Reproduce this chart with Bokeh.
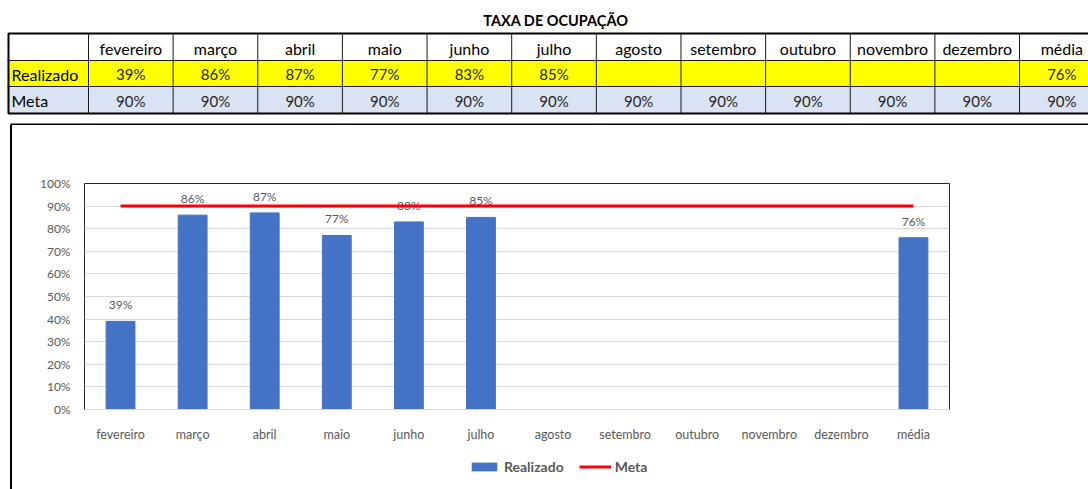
from bokeh.plotting import figure
from bokeh.models import (ColumnDataSource, FactorRange, Range1d, FixedTicker,
                          NumeralTickFormatter, Legend, LegendItem, Div, Spacer)
from bokeh.layouts import row, column
from bokeh.embed import file_html
from bokeh.resources import INLINE
from bokeh.core.properties import value

# ---------------- data ----------------
title_text = "TAXA DE OCUPAÇÃO"
months = ["fevereiro", "março", "abril", "maio", "junho", "julho", "agosto",
          "setembro", "outubro", "novembro", "dezembro", "média"]
realizado = [0.39, 0.86, 0.87, 0.77, 0.83, 0.85, None, None, None, None, None, 0.76]
meta = [0.90, 0.90, 0.90, 0.90, 0.90, 0.90, 0.90, 0.90, 0.90, 0.90, 0.90, 0.90]
row_labels = ["Realizado", "Meta"]
series_names = ["Realizado", "Meta"]
y_ticks = [0.0, 0.1, 0.2, 0.3, 0.4, 0.5, 0.6, 0.7, 0.8, 0.9, 1.0]

FONT = "Lato"
GRAY = "#595959"
BLUE = "#4472C4"
RED = "#FF0000"


def pct(v):
    return "" if v is None else f"{round(v * 100)}%"


# ---------------- table figure ----------------
W = 1088
TH = 125
t = figure(width=W, height=TH, x_range=Range1d(0, W), y_range=Range1d(TH, 0),
           output_backend="svg", toolbar_location=None, min_border=0,
           x_axis_location=None, y_axis_location=None)
t.grid.visible = False
t.outline_line_color = None
t.background_fill_color = "white"
t.border_fill_color = "white"

tab_left = 7.0
first_edge = 88.0
col_w = 84.64
row_top = [33.0, 60.0, 86.0]
row_bot = [60.0, 86.0, 113.0]
n = len(months)
lefts = [first_edge + i * col_w for i in range(n)]
rights = [l + col_w for l in lefts]
centers = [(l + r) / 2 for l, r in zip(lefts, rights)]
table_right = rights[-1]

t.quad(left=[tab_left] * 3, right=[table_right] * 3, top=row_top, bottom=row_bot,
       fill_color=["white", "#FFFF00", "#DAE3F3"], line_color=None)
vx = [first_edge] + rights[:-1]
t.segment(x0=vx, x1=vx, y0=[row_top[0]] * len(vx), y1=[row_bot[-1]] * len(vx),
          line_color="#1a1a1a", line_width=1)
t.segment(x0=[tab_left] * 2, x1=[table_right] * 2, y0=[row_bot[0], row_bot[1]],
          y1=[row_bot[0], row_bot[1]], line_color="#1a1a1a", line_width=1)
t.quad(left=[tab_left + 1], right=[table_right], top=[row_top[0]], bottom=[row_bot[-1]],
       fill_color=None, line_color="black", line_width=2)
# top edge of the chart box
t.quad(left=[10], right=[W + 10], top=[123], bottom=[125], fill_color="black",
       line_color=None)

t.text(x=[(tab_left + table_right) / 2], y=[20], text=[title_text], text_align="center",
       text_baseline="middle", text_font=value(FONT), text_font_style="bold",
       text_font_size="14.5px", text_color="black")
t.text(x=centers, y=[47.5] * n, text=months, text_align="center", text_baseline="middle",
       text_font=value(FONT), text_font_size="16px", text_color="black")
t.text(x=centers, y=[73.5] * n, text=[pct(v) for v in realizado], text_align="center",
       text_baseline="middle", text_font=value(FONT), text_font_size="15px",
       text_color="#262626")
t.text(x=centers, y=[100] * n, text=[pct(v) for v in meta], text_align="center",
       text_baseline="middle", text_font=value(FONT), text_font_size="15px",
       text_color="#262626")
t.text(x=[11, 11], y=[73.5, 100], text=row_labels, text_align="left",
       text_baseline="middle", text_font=value(FONT), text_font_size="16px",
       text_color="black")

# ---------------- chart figure ----------------
CW = W - 12
CH_TOTAL = 489 - TH
LH = 44
CH = CH_TOTAL - LH
p = figure(width=CW, height=CH, x_range=FactorRange(factors=months, range_padding=0),
           y_range=Range1d(0, 1), output_backend="svg", toolbar_location=None,
           min_border_left=72, min_border_right=139, min_border_top=58,
           min_border_bottom=36)
p.background_fill_color = "white"
p.border_fill_color = "white"
p.outline_line_color = "#262626"
p.outline_line_width = 1

p.xgrid.grid_line_color = None
p.ygrid.grid_line_color = "#D9D9D9"
p.ygrid.ticker = FixedTicker(ticks=y_ticks)

p.yaxis.ticker = FixedTicker(ticks=y_ticks)
p.yaxis.formatter = NumeralTickFormatter(format="0%")
p.yaxis.axis_line_color = None
p.yaxis.major_tick_line_color = None
p.yaxis.minor_tick_line_color = None
p.yaxis.major_tick_out = 0
p.yaxis.major_tick_in = 0
p.yaxis.minor_tick_out = 0
p.yaxis.major_label_standoff = 14
p.yaxis.major_label_text_font = FONT
p.yaxis.major_label_text_font_size = "12px"
p.yaxis.major_label_text_color = GRAY

p.xaxis.axis_line_color = "#D9D9D9"
p.xaxis.major_tick_line_color = None
p.xaxis.minor_tick_line_color = None
p.xaxis.major_tick_out = 0
p.xaxis.major_tick_in = 0
p.xaxis.major_label_standoff = 17
p.xaxis.major_label_text_font = FONT
p.xaxis.major_label_text_font_size = "12.5px"
p.xaxis.major_label_text_color = GRAY

bm = [m for m, v in zip(months, realizado) if v is not None]
bv = [v for v in realizado if v is not None]
src = ColumnDataSource(dict(m=bm, v=bv, lbl=[pct(v) for v in bv]))

bars = p.vbar(x="m", top="v", width=0.40, source=src, fill_color=BLUE, line_color=BLUE)
p.text(x="m", y="v", text="lbl", source=src, y_offset=-9, text_align="center",
       text_baseline="bottom", text_font=value(FONT), text_font_size="12px",
       text_color=GRAY)
line = p.line(x=months, y=meta, line_color=RED, line_width=3)

# ---------------- legend strip (below the x axis, inside the chart box) ----------------
lg = figure(width=CW, height=LH, x_range=Range1d(0, 1), y_range=Range1d(0, 1),
            output_backend="svg", toolbar_location=None,
            min_border_left=72, min_border_right=139, min_border_top=0,
            min_border_bottom=0, x_axis_location=None, y_axis_location=None)
lg.grid.visible = False
lg.outline_line_color = None
lg.background_fill_color = "white"
lg.border_fill_color = "white"
# zero-size swatch renderers that only feed the legend's glyphs
lg_bar = lg.vbar(x=[0.5], bottom=[0], top=[0], width=0.4, fill_color=BLUE,
                 line_color=None)
lg_line = lg.line(x=[-10, -9], y=[0.5, 0.5], line_color=RED, line_width=3)

legend = Legend(items=[LegendItem(label=series_names[0], renderers=[lg_bar]),
                       LegendItem(label=series_names[1], renderers=[lg_line])],
                location=(384, 14), orientation="horizontal",
                glyph_width=32, glyph_height=11, label_height=16,
                label_standoff=4, spacing=15,
                padding=0, margin=0, border_line_color=None,
                background_fill_alpha=0,
                label_text_font=FONT, label_text_font_style="bold",
                label_text_font_size="14px", label_text_color=GRAY)
lg.add_layout(legend)

left_gap = Spacer(width=10, height=CH_TOTAL, margin=0)
left_edge = Div(text="", width=2, height=CH_TOTAL, margin=0,
                styles={"background-color": "black"})
chart_row = row(left_gap, left_edge, column(p, lg, spacing=0), spacing=0)

open("out.html", "w").write(file_html([t, chart_row], INLINE))
